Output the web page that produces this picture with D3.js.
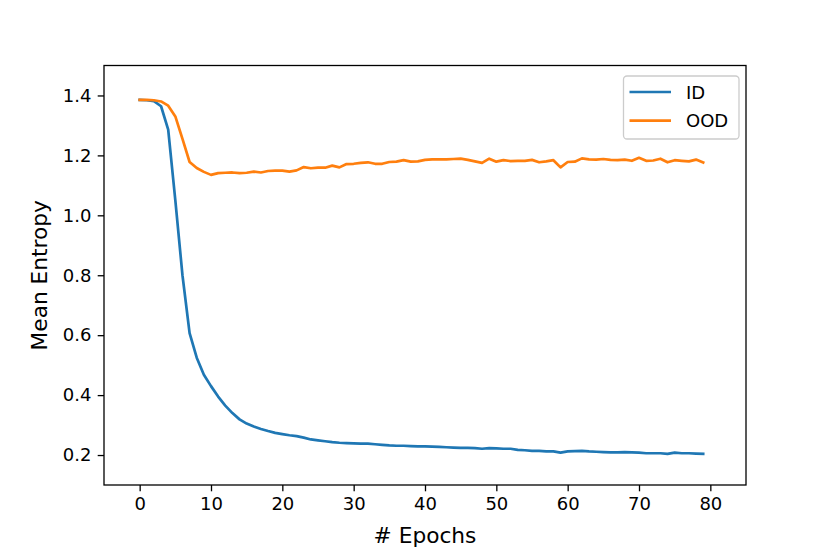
<!DOCTYPE html>
<html>
<head>
<meta charset="utf-8">
<script src="https://cdn.jsdelivr.net/npm/d3@7"></script>
<style>
  html, body { margin: 0; padding: 0; background: #fff; }
  svg { display: block; font-family: "DejaVu Sans", sans-serif; }
</style>
</head>
<body>
<svg id="chart" width="830" height="554"></svg>
<script>
const epochs = d3.range(0, 80);
const idEntropy = [
  1.385, 1.384, 1.381, 1.364, 1.286, 1.050, 0.800, 0.607, 0.525, 0.468,
  0.430, 0.395, 0.365, 0.340, 0.319, 0.305, 0.295, 0.287, 0.280, 0.274,
  0.270, 0.266, 0.263, 0.258, 0.252, 0.249, 0.246, 0.243, 0.241, 0.240,
  0.239, 0.238, 0.238, 0.236, 0.234, 0.232, 0.231, 0.231, 0.230, 0.229,
  0.229, 0.228, 0.227, 0.226, 0.225, 0.224, 0.224, 0.223, 0.221, 0.223,
  0.222, 0.221, 0.221, 0.217, 0.216, 0.214, 0.214, 0.212, 0.212, 0.208,
  0.212, 0.213, 0.214, 0.212, 0.211, 0.210, 0.209, 0.209, 0.210, 0.209,
  0.208, 0.206, 0.206, 0.206, 0.204, 0.208, 0.206, 0.206, 0.205, 0.204
];
const oodEntropy = [
  1.385, 1.385, 1.384, 1.380, 1.366, 1.330, 1.255, 1.178, 1.158, 1.145,
  1.135, 1.141, 1.142, 1.143, 1.141, 1.142, 1.146, 1.143, 1.148, 1.149,
  1.149, 1.146, 1.150, 1.161, 1.157, 1.159, 1.159, 1.166, 1.160, 1.171,
  1.172, 1.175, 1.177, 1.172, 1.172, 1.178, 1.179, 1.184, 1.179, 1.180,
  1.185, 1.187, 1.187, 1.187, 1.188, 1.189, 1.185, 1.180, 1.175, 1.189,
  1.179, 1.184, 1.181, 1.182, 1.182, 1.185, 1.177, 1.180, 1.184, 1.160,
  1.178, 1.179, 1.190, 1.187, 1.186, 1.188, 1.185, 1.184, 1.186, 1.182,
  1.192, 1.182, 1.183, 1.189, 1.177, 1.184, 1.182, 1.180, 1.186, 1.176
];
const xTicks = [0, 10, 20, 30, 40, 50, 60, 70, 80];
const yTicks = [0.2, 0.4, 0.6, 0.8, 1.0, 1.2, 1.4];
const seriesNames = ["ID", "OOD"];
const seriesColors = ["#1f77b4", "#ff7f0e"];

const svg = d3.select("#chart");
const L = 104, R = 746, T = 65.5, B = 485;
const x = d3.scaleLinear().domain([-5, 85]).range([L, R]);
const y = d3.scaleLinear().domain([0.1, 1.5]).range([B, T]);

const tickLen = 6.3, tickPad = 6.3, tickFont = 18;

// x axis
const xAxis = d3.axisBottom(x).tickValues(xTicks).tickFormat(d3.format("d"))
  .tickSize(tickLen).tickPadding(tickPad);
const gx = svg.append("g").attr("transform", `translate(0,${B})`).call(xAxis);
gx.select(".domain").remove();
gx.selectAll("line").attr("stroke", "#000").attr("stroke-width", 1.3);
gx.selectAll("text").attr("font-size", tickFont).attr("font-family", "DejaVu Sans").attr("fill", "#000");

// y axis
const yAxis = d3.axisLeft(y).tickValues(yTicks).tickFormat(d3.format(".1f"))
  .tickSize(tickLen).tickPadding(tickPad);
const gy = svg.append("g").attr("transform", `translate(${L},0)`).call(yAxis);
gy.select(".domain").remove();
gy.selectAll("line").attr("stroke", "#000").attr("stroke-width", 1.3);
gy.selectAll("text").attr("font-size", tickFont).attr("font-family", "DejaVu Sans").attr("fill", "#000");

// lines
const series = [idEntropy, oodEntropy];
const line = d3.line().x((d, i) => x(epochs[i])).y(d => y(d));
series.forEach((s, k) => {
  svg.append("path").datum(s)
    .attr("fill", "none")
    .attr("stroke", seriesColors[k])
    .attr("stroke-width", 2.7)
    .attr("stroke-linejoin", "round")
    .attr("stroke-linecap", "square")
    .attr("d", line);
});

// frame
svg.append("rect").attr("x", L).attr("y", T).attr("width", R - L).attr("height", B - T)
  .attr("fill", "none").attr("stroke", "#000").attr("stroke-width", 1.3);

// axis labels
svg.append("text").attr("x", (L + R) / 2).attr("y", 543)
  .attr("text-anchor", "middle").attr("font-size", 21.7).attr("fill", "#000")
  .text("# Epochs");
svg.append("text").attr("transform", `translate(47,${(T + B) / 2}) rotate(-90)`)
  .attr("text-anchor", "middle").attr("font-size", 21.7).attr("fill", "#000")
  .text("Mean Entropy");

// legend
const lg = svg.append("g");
lg.append("rect").attr("x", 623.5).attr("y", 76).attr("width", 115.5).attr("height", 63)
  .attr("rx", 3.5).attr("fill", "#fff").attr("fill-opacity", 0.8)
  .attr("stroke", "#cccccc").attr("stroke-width", 1.3);
seriesNames.forEach((name, k) => {
  const cy = 92 + k * 28.7;
  lg.append("line").attr("x1", 629.5).attr("x2", 671).attr("y1", cy).attr("y2", cy)
    .attr("stroke", seriesColors[k]).attr("stroke-width", 2.7);
  lg.append("text").attr("x", 686).attr("y", cy + 6.5)
    .attr("font-size", tickFont).attr("fill", "#000").text(name);
});
</script>
</body>
</html>
